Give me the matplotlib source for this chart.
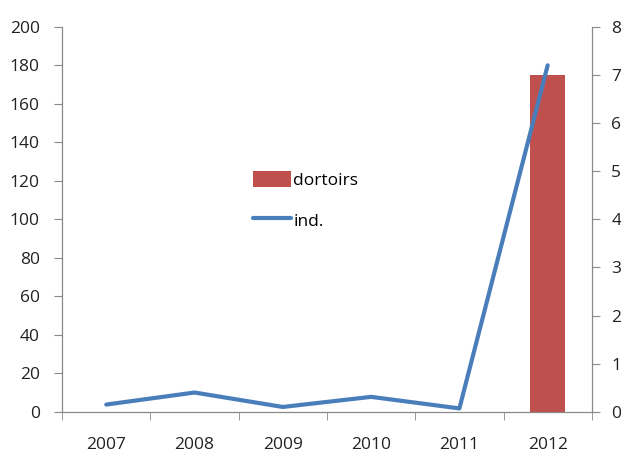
import numpy as np
import matplotlib.pyplot as plt

plt.rcParams['font.family'] = ['Open Sans', 'DejaVu Sans']

years = ['2007', '2008', '2009', '2010', '2011', '2012']
dortoirs = [0, 0, 0, 0, 0, 175]
ind = [0.15, 0.40, 0.10, 0.31, 0.07, 7.2]

x = np.arange(len(years))

fig = plt.figure(figsize=(6.21, 4.55), dpi=100)
ax = fig.add_axes([0.1, 0.095, 0.853, 0.846])
ax2 = ax.twinx()

bars = ax.bar(x, dortoirs, width=0.4, color='#C0504D', label='dortoirs')
line, = ax2.plot(x, ind, color='#4A7EBB', linewidth=3, label='ind.', solid_capstyle='round')

ax.set_xlim(-0.5, 5.5)
ax.set_ylim(0, 200)
ax.set_yticks(range(0, 201, 20))
ax2.set_ylim(0, 8)
ax2.set_yticks(range(0, 9))

ax.set_xticks(x)
ax.set_xticklabels(years)
ax.set_xticks(np.arange(-0.5, 6, 1), minor=True)
ax.tick_params(axis='x', which='major', length=0, pad=18)
ax.tick_params(axis='x', which='minor', length=6, color='#888888')
ax.tick_params(axis='y', length=6, color='#888888', pad=10)
ax2.tick_params(axis='y', length=6, color='#888888', pad=8)

for a in (ax, ax2):
    a.tick_params(labelsize=12.5, labelcolor='#222222')
    a.spines['top'].set_visible(False)
    for s in ('left', 'right', 'bottom'):
        a.spines[s].set_color('#888888')

ax.legend([bars, line], ['dortoirs', 'ind.'], loc='center',
          bbox_to_anchor=(0.46, 0.55), frameon=False, fontsize=12.5,
          handlelength=2.2, handleheight=1.1, handletextpad=0.1, labelspacing=1.3)

fig.savefig('out.png', dpi=100)
